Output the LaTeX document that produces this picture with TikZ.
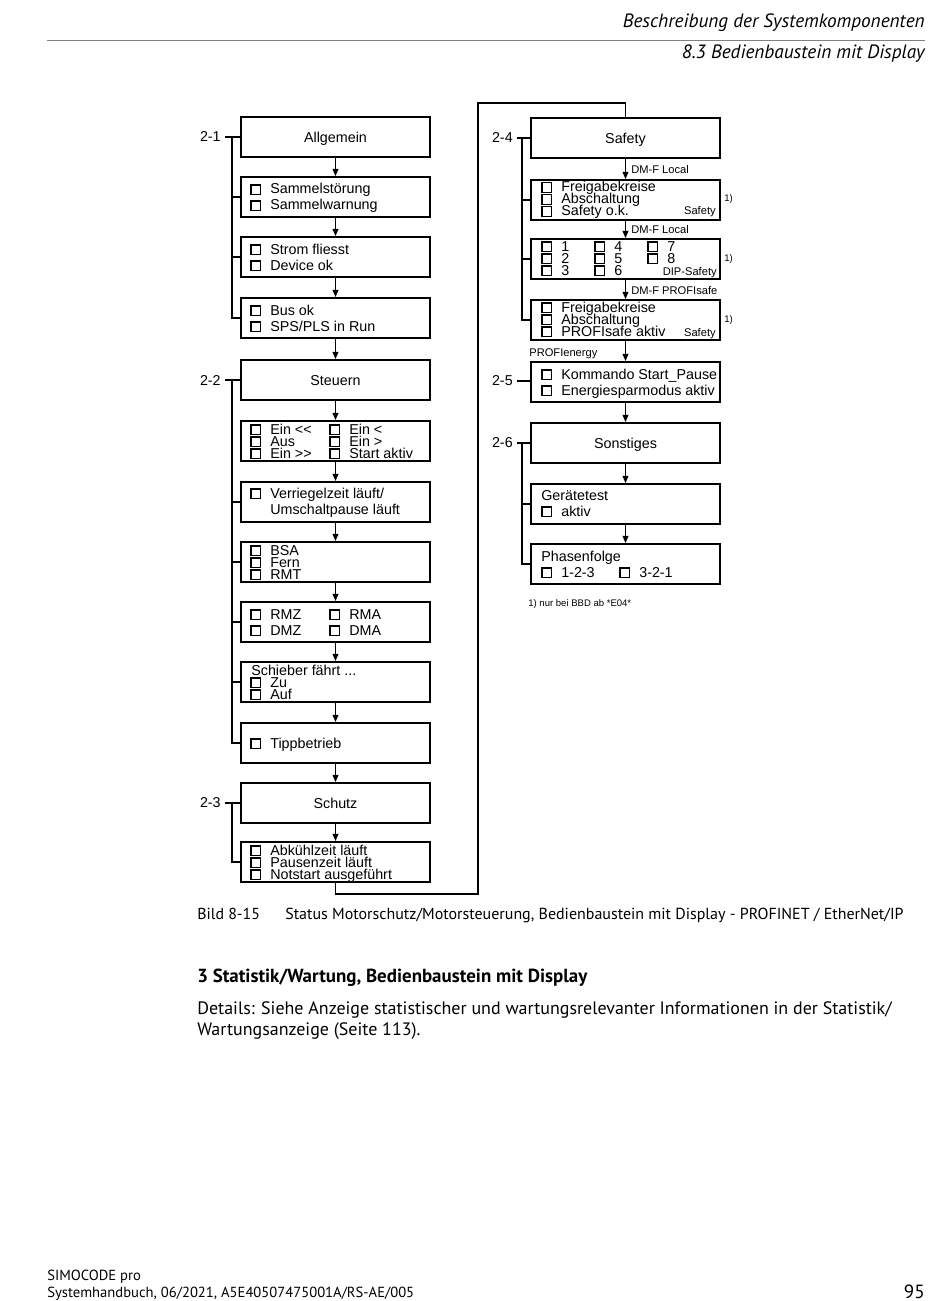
\documentclass[tikz,border=0pt]{standalone}
\usepackage{fontspec}
\setmainfont{PT Sans}
\newfontfamily\diagfont{Liberation Sans}
\usetikzlibrary{arrows.meta, positioning, calc}
\newcommand{\chk}{{\setlength{\fboxrule}{0.8pt}\setlength{\fboxsep}{0pt}%
  \fbox{\rule{0pt}{1.85mm}\hspace{1.85mm}}}}
\newcommand{\cbx}[1]{\chk\hspace{2mm}#1}
\tikzset{
  menuB/.style={draw=black, line width=1.2pt, inner sep=0pt, text depth=0pt,
                minimum width=41.8mm, minimum height=8.84mm,
                font=\diagfont\fontsize{9}{10}\selectfont},
  itemT/.style={anchor=base west, inner sep=0pt,
                font=\diagfont\fontsize{9}{10}\selectfont},
  smallT/.style={inner sep=0pt, font=\diagfont\fontsize{7}{8}\selectfont},
  noteT/.style={inner sep=0pt, font=\diagfont\fontsize{6}{7}\selectfont},
  grpL/.style={anchor=east, inner ysep=0pt, inner xsep=2.5pt,
               font=\diagfont\fontsize{9}{10}\selectfont},
  flow/.style={line width=0.8pt, -{Triangle[length=1.6mm, width=1.3mm]}},
  brk/.style={line width=0.8pt},
  pageT/.style={anchor=base west, inner sep=0pt},
}

\begin{document}
\begin{tikzpicture}[x=0.221mm, y=-0.221mm]
    \useasboundingbox (0,0) rectangle (950,1301);
    %% page header
    \node[pageT, anchor=base east, font=\itshape\fontsize{12.1}{14}\selectfont]
         (hdA) at (925,28) {Beschreibung der Systemkomponenten};
    \node[pageT, anchor=base east, font=\itshape\fontsize{12.1}{14}\selectfont]
         (hdB) at (925,59) {8.3 Bedienbaustein mit Display};
    \coordinate (hl1) at (47,40);
    \coordinate (hl2) at (925,40);
    \draw[gray, line width=0.6pt] (hl1) -- (hl2);

    %% left column: menu boxes
    \node[menuB] (allg)   at (335.5,137) {Allgemein};
    \node[menuB] (sammel) at (335.5,197) {};
    \node[menuB] (strom)  at (335.5,257) {};
    \node[menuB] (bus)    at (335.5,318) {};
    \node[menuB] (steuer) at (335.5,380) {Steuern};
    \node[menuB] (ein)    at (335.5,441) {};
    \node[menuB] (verr)   at (335.5,502) {};
    \node[menuB] (bsa)    at (335.5,562) {};
    \node[menuB] (rmz)    at (335.5,622) {};
    \node[menuB] (schieb) at (335.5,682) {};
    \node[menuB] (tipp)   at (335.5,743) {};
    \node[menuB] (schutz) at (335.5,803) {Schutz};
    \node[menuB] (abk)    at (335.5,862) {};
    %% left column: entries
    \node[itemT] (sa1) at (250,194) {\cbx{Sammelstörung}};
    \node[itemT] (sa2) at (250,210) {\cbx{Sammelwarnung}};
    \node[itemT] (st1) at (250,254) {\cbx{Strom fliesst}};
    \node[itemT] (st2) at (250,270) {\cbx{Device ok}};
    \node[itemT] (bu1) at (250,315) {\cbx{Bus ok}};
    \node[itemT] (bu2) at (250,331) {\cbx{SPS/PLS in Run}};
    \node[itemT] (ei1) at (250,434) {\cbx{Ein <<}};
    \node[itemT] (ei2) at (250,446) {\cbx{Aus}};
    \node[itemT] (ei3) at (250,458) {\cbx{Ein >>}};
    \node[itemT] (ei4) at (329,434) {\cbx{Ein <}};
    \node[itemT] (ei5) at (329,446) {\cbx{Ein >}};
    \node[itemT] (ei6) at (329,458) {\cbx{Start aktiv}};
    \node[itemT] (ve1) at (250,498) {\cbx{Verriegelzeit läuft/}};
    \node[itemT] (ve2) at (270,514) {Umschaltpause läuft};
    \node[itemT] (bs1) at (250,555) {\cbx{BSA}};
    \node[itemT] (bs2) at (250,567) {\cbx{Fern}};
    \node[itemT] (bs3) at (250,579) {\cbx{RMT}};
    \node[itemT] (rm1) at (250,619) {\cbx{RMZ}};
    \node[itemT] (rm2) at (250,635) {\cbx{DMZ}};
    \node[itemT] (rm3) at (329,619) {\cbx{RMA}};
    \node[itemT] (rm4) at (329,635) {\cbx{DMA}};
    \node[itemT] (sc0) at (251,675) {Schieber fährt ...};
    \node[itemT] (sc1) at (250,687) {\cbx{Zu}};
    \node[itemT] (sc2) at (250,699) {\cbx{Auf}};
    \node[itemT] (ti1) at (250,748) {\cbx{Tippbetrieb}};
    \node[itemT] (ab1) at (250,855) {\cbx{Abkühlzeit läuft}};
    \node[itemT] (ab2) at (250,867) {\cbx{Pausenzeit läuft}};
    \node[itemT] (ab3) at (250,879) {\cbx{Notstart ausgeführt}};

    %% right column: menu boxes
    \node[menuB] (safety) at (625.5,138) {Safety};
    \node[menuB] (frei)   at (625.5,200) {};
    \node[menuB] (dip)    at (625.5,259) {};
    \node[menuB] (psafe)  at (625.5,320) {};
    \node[menuB] (komm)   at (625.5,382) {};
    \node[menuB] (sonst)  at (625.5,443) {Sonstiges};
    \node[menuB] (geraet) at (625.5,504) {};
    \node[menuB] (phase)  at (625.5,564) {};
    %% right column: entries
    \node[itemT] (fr1) at (541,191.5) {\cbx{Freigabekreise}};
    \node[itemT] (fr2) at (541,203.5) {\cbx{Abschaltung}};
    \node[itemT] (fr3) at (541,215.5) {\cbx{Safety o.k.}};
    \node[smallT, anchor=base east] (frS) at (716,215) {Safety};
    \node[itemT] (di1) at (541,251) {\cbx{1}};
    \node[itemT] (di2) at (541,263) {\cbx{2}};
    \node[itemT] (di3) at (541,275) {\cbx{3}};
    \node[itemT] (di4) at (594,251) {\cbx{4}};
    \node[itemT] (di5) at (594,263) {\cbx{5}};
    \node[itemT] (di6) at (594,275) {\cbx{6}};
    \node[itemT] (di7) at (647,251) {\cbx{7}};
    \node[itemT] (di8) at (647,263) {\cbx{8}};
    \node[smallT, anchor=base east] (diS) at (717,275) {DIP-Safety};
    \node[itemT] (ps1) at (541,312) {\cbx{Freigabekreise}};
    \node[itemT] (ps2) at (541,324) {\cbx{Abschaltung}};
    \node[itemT] (ps3) at (541,336) {\cbx{PROFIsafe aktiv}};
    \node[smallT, anchor=base east] (psS) at (716,336) {Safety};
    \node[itemT] (ko1) at (541,379) {\cbx{Kommando Start\_Pause}};
    \node[itemT] (ko2) at (541,395) {\cbx{Energiesparmodus aktiv}};
    \node[itemT] (ge0) at (541,500) {Gerätetest};
    \node[itemT] (ge1) at (541,516) {\cbx{aktiv}};
    \node[itemT] (ph0) at (541,561) {Phasenfolge};
    \node[itemT] (ph1) at (541,577) {\cbx{1-2-3}};
    \node[itemT] (ph2) at (619,577) {\cbx{3-2-1}};
    %% arrow labels and footnote marks
    \node[smallT, anchor=west] (dm1) at (631,170) {DM-F Local};
    \node[smallT, anchor=west] (dm2) at (631,230) {DM-F Local};
    \node[smallT, anchor=west] (dm3) at (631,291) {DM-F PROFIsafe};
    \node[smallT, anchor=west] (pen) at (529,354) {PROFIenergy};
    \node[noteT, anchor=west] (fn1) at (724,199) {1)};
    \node[noteT, anchor=west] (fn2) at (724,259) {1)};
    \node[noteT, anchor=west] (fn3) at (724,320) {1)};
    \node[noteT, anchor=west] (fnt) at (528,604) {1) nur bei BBD ab *E04*};

    %% flow arrows
    \foreach \a/\b in {allg/sammel, sammel/strom, strom/bus, bus/steuer,
                       steuer/ein, ein/verr, verr/bsa, bsa/rmz, rmz/schieb,
                       schieb/tipp, tipp/schutz, schutz/abk,
                       safety/frei, frei/dip, dip/psafe, psafe/komm,
                       komm/sonst, sonst/geraet, geraet/phase}
      \draw[flow] (\a.south) -- (\b.north);
    %% link from left column to right column
    \coordinate (lk1) at (478,894);
    \coordinate (lk2) at (478,103);
    \draw[brk] (abk.south) |- (lk1) -- (lk2) -| (safety.north);

    %% group labels and brackets
    \node[grpL] (g21) at (225,137) {2-1};
    \node[grpL] (g22) at (225,380) {2-2};
    \node[grpL] (g23) at (225,803) {2-3};
    \node[grpL] (g24) at (517,138) {2-4};
    \node[grpL] (g25) at (517,381) {2-5};
    \node[grpL] (g26) at (517,443) {2-6};
    \coordinate (b21) at (232,137);
    \coordinate (b22) at (232,380);
    \coordinate (b23) at (232,803);
    \coordinate (b24) at (522,138);
    \coordinate (b26) at (522,443);
    \draw[brk] (g21.east) -- (allg.west);
    \draw[brk] (g22.east) -- (steuer.west);
    \draw[brk] (g23.east) -- (schutz.west);
    \draw[brk] (g24.east) -- (safety.west);
    \draw[brk] (g25.east) -- (g25.east -| komm.west);
    \draw[brk] (g26.east) -- (sonst.west);
    \draw[brk] (b21) |- (bus.west);
    \foreach \n in {sammel, strom} \draw[brk] (b21 |- \n.west) -- (\n.west);
    \draw[brk] (b22) |- (tipp.west);
    \foreach \n in {verr, bsa, rmz, schieb} \draw[brk] (b22 |- \n.west) -- (\n.west);
    \draw[brk] (b23) |- (abk.west);
    \draw[brk] (b24) |- (psafe.west);
    \foreach \n in {frei, dip} \draw[brk] (b24 |- \n.west) -- (\n.west);
    \draw[brk] (b26) |- (phase.west);
    \draw[brk] (b26 |- geraet.west) -- (geraet.west);

    %% caption and text below
    \node[pageT, font=\fontsize{10}{12}\selectfont] (capN) at (197,919) {Bild 8-15};
    \node[pageT, font=\fontsize{10.05}{12}\selectfont] (capT) at (285,919)
         {Status Motorschutz/Motorsteuerung, Bedienbaustein mit Display - PROFINET / EtherNet/IP};
    \node[pageT, font=\bfseries\fontsize{11.9}{14}\selectfont] (sec) at (197,982)
         {3 Statistik/Wartung, Bedienbaustein mit Display};
    \node[pageT, font=\fontsize{11.3}{13}\selectfont] (txA) at (197,1014)
         {Details: Siehe Anzeige statistischer und wartungsrelevanter Informationen in der Statistik/};
    \node[pageT, font=\fontsize{11.3}{13}\selectfont] (txB) at (197,1035)
         {Wartungsanzeige (Seite 113).};
    %% page footer
    \node[pageT, font=\fontsize{9.2}{11}\selectfont] (ftA) at (47,1280) {SIMOCODE pro};
    \node[pageT, font=\fontsize{9.2}{11}\selectfont] (ftB) at (47,1297)
         {Systemhandbuch, 06/2021, A5E40507475001A/RS-AE/005};
    \node[pageT, anchor=base east, font=\fontsize{12}{14}\selectfont] (pg) at (925,1298) {95};
\end{tikzpicture}
\end{document}
